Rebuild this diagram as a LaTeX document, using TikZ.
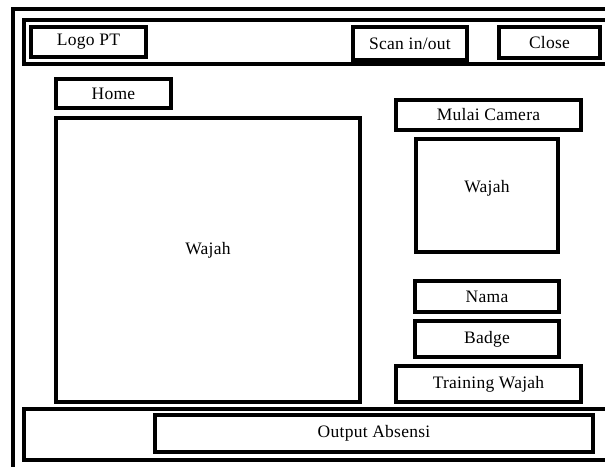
\documentclass[tikz,border=0pt]{standalone}
\usepackage{fontspec}
\setmainfont{Liberation Serif}[LetterSpace=1.5]
\begin{document}
\begin{tikzpicture}[x=1pt,y=-1pt,
  panel/.style={draw, line width=3.1pt},
  field/.style={draw, line width=3.1pt, rectangle, inner sep=0pt,
    font=\fontsize{17.5}{21}\selectfont},
  raise/.style={text depth=#1}]
\useasboundingbox (0,0) rectangle (605,466);
\clip (0,0) rectangle (605,466);

% window frame, header bar and footer bar (they run past the right edge)
\draw[panel] (13,9) rectangle (640,490);
\draw[panel] (24,20) rectangle (640,64);
\draw[panel] (24,409) rectangle (640,460);

% header buttons
\node[field, minimum width=115pt, minimum height=30pt] (logo) at (88.5,42) {Logo PT};
\node[field, minimum width=114pt, minimum height=33pt] (scan) at (410,43.5) {Scan in/out};
\node[field, minimum width=101pt, minimum height=31pt] (close) at (549.5,42.5) {Close};

% left side
\node[field, minimum width=115pt, minimum height=29pt] (home) at (113.5,93.5) {Home};
\node[field, minimum width=304pt, minimum height=284pt, raise=24pt] (bigface) at (208,260) {Wajah};

% right side
\node[field, minimum width=185pt, minimum height=30pt] (camera) at (488.5,115) {Mulai Camera};
\node[field, minimum width=142pt, minimum height=113pt, raise=18pt] (face) at (487,195.5) {Wajah};
\node[field, minimum width=144pt, minimum height=31pt] (nama) at (487,296.5) {Nama};
\node[field, minimum width=144pt, minimum height=36pt] (badge) at (487,339) {Badge};
\node[field, minimum width=185pt, minimum height=36pt] (train) at (488.5,384) {Training Wajah};

% footer output
\node[field, minimum width=438pt, minimum height=37pt] (output) at (374,433.5) {Output Absensi};
\end{tikzpicture}
\end{document}
